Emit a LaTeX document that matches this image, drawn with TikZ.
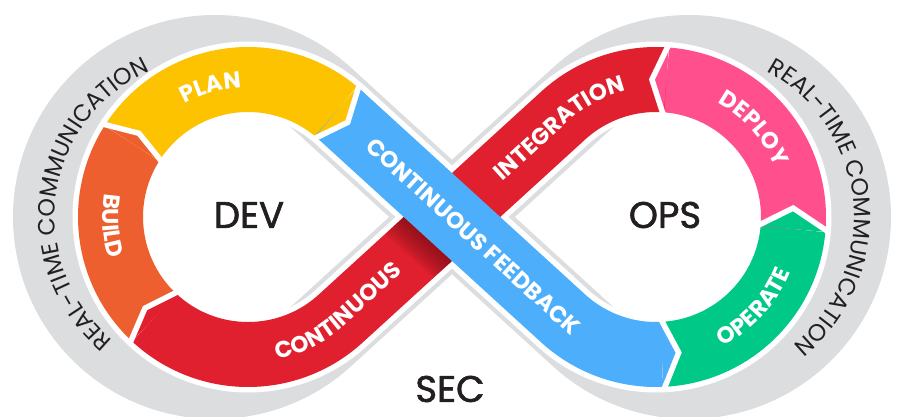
\documentclass[tikz,border=0pt]{standalone}
\usepackage{fontspec}
\setmainfont{Poppins}
\newfontfamily\devfont{Poppins}[FakeBold=1.6]
\usetikzlibrary{calc,decorations.text}
\definecolor{cgray}{HTML}{DCDDDF}
\definecolor{cyellow}{HTML}{FDC300}
\definecolor{corange}{HTML}{EE5F30}
\definecolor{cred}{HTML}{E0202E}
\definecolor{creddark}{HTML}{7A1018}
\definecolor{cblue}{HTML}{4DAEFB}
\definecolor{cpink}{HTML}{FF4F8D}
\definecolor{cgreen}{HTML}{00C886}
\definecolor{ctext}{HTML}{231F20}
\newcommand\lblfont{\fontsize{23}{23}\selectfont\bfseries}
\newcommand\rtfont{\fontsize{23.5}{23.5}\selectfont}
\newcommand\mytip[4]{%
  \fill[#4] ($(#1)+(#2:170.5)$) -- ($(#1)+(#3:137.5)$) -- ($(#1)+(#2:104.5)$) -- cycle;
  \draw[chev] ($(#1)+(#2:173.5)$) -- ($(#1)+(#3:137.5)$) -- ($(#1)+(#2:101.5)$);}
\begin{document}
\begin{tikzpicture}[x=1pt,y=1pt,
  band/.style={line width=65pt, line cap=butt},
  chev/.style={white, line width=5.5pt, line join=miter},
  bigtxt/.style={inner sep=0pt, text=ctext, font=\devfont\fontsize{37}{37}\selectfont},
  lbl/.style={decorate, decoration={text along path, text align=center, text color=white, text={|\lblfont|#1}}},
  rt/.style={decorate, decoration={text along path, text align=center, text color=ctext, text={|\rtfont|#1}}}]
\useasboundingbox (0,0) rectangle (900,417);
\fill[white] (0,0) rectangle (900,417);
\coordinate (L) at (248,200);
\coordinate (R) at (656,200);
\coordinate (C) at (452,200);
\coordinate (GL) at (215,200);
\coordinate (GR) at (689,200);
\coordinate (TLu) at ($(L)+(47.62:137.5)$);
\coordinate (TLd) at ($(L)+(-47.62:137.5)$);
\coordinate (TRu) at ($(R)+(132.38:137.5)$);
\coordinate (TRd) at ($(R)+(227.62:137.5)$);
\coordinate (GTLu) at ($(GL)+(47.62:159.7)$);
\coordinate (GTLd) at ($(GL)+(-47.62:159.7)$);
\coordinate (GTRd) at ($(GR)+(227.62:159.7)$);
% gray outline band
\draw[cgray, line width=84.6pt] (GTLu) -- (GTRd) arc[start angle=227.62, end angle=492.38, radius=159.7]
  -- (GTLd) arc[start angle=-47.62, end angle=-312.38, radius=159.7] -- cycle;
% white gap band
\draw[white, line width=76pt] (TLu) -- (TRd) arc[start angle=227.62, end angle=492.38, radius=137.5]
  -- (TLd) arc[start angle=-47.62, end angle=-312.38, radius=137.5] -- cycle;
% coloured segments
\draw[band, corange] ($(L)+(227:137.5)$) arc[start angle=227, end angle=147.5, radius=137.5];
\draw[band, cyellow] ($(L)+(147.5:137.5)$) arc[start angle=147.5, end angle=50, radius=137.5];
\draw[band, cgreen] ($(R)+(272.5:137.5)$) arc[start angle=272.5, end angle=355, radius=137.5];
\draw[band, cpink] ($(R)+(355:137.5)$) arc[start angle=355, end angle=445.7, radius=137.5];
\draw[band, cred] ($(R)+(85.7:137.5)$) arc[start angle=85.7, end angle=132.38, radius=137.5]
  -- (TLd) arc[start angle=-47.62, end angle=-133, radius=137.5];
% shadow of the blue band on the red band
\begin{scope}[shift={(452,200)}, rotate=42.38]
  \clip (-90,-32.5) rectangle (90,32.5);
  \begin{scope}[rotate=-84.76]
    \foreach \k in {1,...,14} {
      \fill[creddark, opacity=0.075] (-90,-32.5-1.8*\k) rectangle (90,-32);
    }
  \end{scope}
\end{scope}
\draw[band, cblue] ($(L)+(50:137.5)$) arc[start angle=50, end angle=47.62, radius=137.5]
  -- (TRd) arc[start angle=227.62, end angle=272.5, radius=137.5];
% arrow tips and white separators
\mytip{L}{227}{221.5}{cred}
\mytip{L}{147.5}{142.5}{corange}
\mytip{L}{50}{43.5}{cyellow}
\mytip{R}{-87.5}{-80.5}{cblue}
\mytip{R}{-5}{3.7}{cgreen}
\mytip{R}{85.7}{91.7}{cpink}
% labels on the bands
\path[lbl=PLAN] ($(L)+(136:129.5)$) arc[start angle=136, end angle=76, radius=129.5];
\path[lbl=BUILD] ($(L)+(153.8:145.5)$) arc[start angle=153.8, end angle=213.8, radius=145.5];
\path[lbl=CONTINUOUS] ($(L)+(-87.62:145.5)$) arc[start angle=-87.62, end angle=-47.62, radius=145.5] -- ++(42.38:101.6);
\path[lbl=INTEGRATION] ($(R)+(132.38:129.5)+(222.38:100)$) -- ($(R)+(132.38:129.5)$) arc[start angle=132.38, end angle=98.8, radius=129.5];
\path[lbl=CONTINUOUS FEEDBACK] ($(C)+(227.62:8)+(137.62:141)$) -- ($(C)+(227.62:8)+(-42.38:199)$);
\path[lbl=DEPLOY] ($(R)+(77.2:129.5)$) arc[start angle=77.2, end angle=7.2, radius=129.5];
\path[lbl=OPERATE] ($(R)+(-77.4:145.5)$) arc[start angle=-77.4, end angle=-7.4, radius=145.5];
% outer texts
\path[rt=REAL-TIME COMMUNICATION] ($(GL)+(252.25:160)$) arc[start angle=252.25, end angle=92.25, radius=160];
\path[rt=REAL-TIME COMMUNICATION] ($(GR)+(85.45:165)$) arc[start angle=85.45, end angle=-74.55, radius=165];
% centre words
\node[bigtxt] (dev) at (249,202) {DEV};
\node[bigtxt] (ops) at (665,202) {OPS};
\node[bigtxt] (sec) at (450,28) {SEC};
\end{tikzpicture}
\end{document}
